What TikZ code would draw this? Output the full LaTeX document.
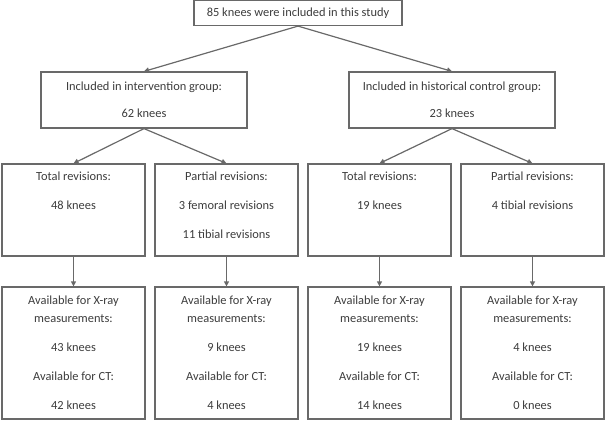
\documentclass[tikz,border=0pt]{standalone}
\usepackage{fontspec}
\setmainfont{Carlito}
\usetikzlibrary{arrows.meta, positioning}
\definecolor{framegray}{RGB}{105,105,105}
\definecolor{textgray}{RGB}{60,60,60}

\begin{document}
\begin{tikzpicture}[
  x=1pt, y=-1pt,
  every node/.style={font=\fontsize{12.4}{18}\selectfont, text=textgray},
  framed/.style={draw=framegray, line width=1.2pt, inner sep=0pt},
  groupbox/.style={framed, align=center, minimum width=206pt, minimum height=56pt},
  revbox/.style={framed, minimum width=143pt, minimum height=92pt,
    execute at begin node={\begin{minipage}[c][76pt][t]{140pt}\centering},
    execute at end node={\end{minipage}}},
  availbox/.style={framed, align=center, minimum width=143pt, minimum height=132pt},
  link/.style={draw=framegray, line width=1.2pt},
  >={Triangle[length=5pt, width=5pt]}
]
\useasboundingbox (0,0) rectangle (606,421);

% cohort
\node[framed, minimum width=208pt, minimum height=25pt] (study) at (298,13)
  {85 knees were included in this study};

% groups
\node[groupbox] (interv) at (144,100) {Included in intervention group:\\[9pt]62 knees};
\node[groupbox] (control) at (452,100) {Included in historical control group:\\[9pt]23 knees};

% revision types
\node[revbox] (intTotal) at (73.5,210) {Total revisions:\\[11pt]48 knees};
\node[revbox] (intPartial) at (226.5,210)
  {Partial revisions:\\[11pt]3 femoral revisions\\[11pt]11 tibial revisions};
\node[revbox] (ctlTotal) at (379.5,210) {Total revisions:\\[11pt]19 knees};
\node[revbox] (ctlPartial) at (532.5,210) {Partial revisions:\\[11pt]4 tibial revisions};

% available for imaging
\node[availbox] (intTotalImg) at (73.5,353)
  {Available for X-ray\\measurements:\\[11pt]43 knees\\[11pt]Available for CT:\\[11pt]42 knees};
\node[availbox] (intPartialImg) at (226.5,353)
  {Available for X-ray\\measurements:\\[11pt]9 knees\\[11pt]Available for CT:\\[11pt]4 knees};
\node[availbox] (ctlTotalImg) at (379.5,353)
  {Available for X-ray\\measurements:\\[11pt]19 knees\\[11pt]Available for CT:\\[11pt]14 knees};
\node[availbox] (ctlPartialImg) at (532.5,353)
  {Available for X-ray\\measurements:\\[11pt]4 knees\\[11pt]Available for CT:\\[11pt]0 knees};

\draw[link, ->] (study.south) -- (interv.north);
\draw[link, ->] (study.south) -- (control.north);

\draw[link, ->] (interv.south) -- (intTotal.north);
\draw[link, ->] (interv.south) -- (intPartial.north);
\draw[link, ->] (control.south) -- (ctlTotal.north);
\draw[link, ->] (control.south) -- (ctlPartial.north);

\draw[link, ->] (intTotal) -- (intTotalImg);
\draw[link, ->] (intPartial) -- (intPartialImg);
\draw[link, ->] (ctlTotal) -- (ctlTotalImg);
\draw[link, ->] (ctlPartial) -- (ctlPartialImg);

\end{tikzpicture}
\end{document}
